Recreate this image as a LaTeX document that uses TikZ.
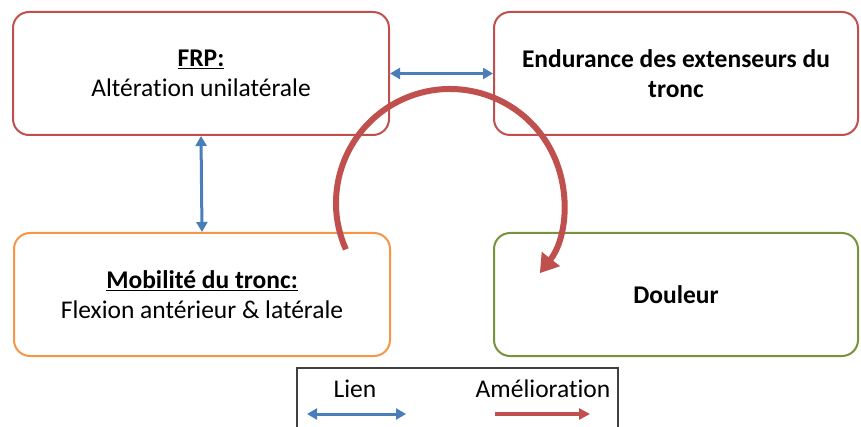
\documentclass[tikz,border=0pt]{standalone}
\usepackage{fontspec}
\setmainfont{Carlito}[Ligatures=NoCommon]
\usetikzlibrary{arrows.meta}
\definecolor{boxred}{HTML}{C0504D}
\definecolor{linkblue}{HTML}{4A7EBB}
\definecolor{boxorange}{HTML}{F79646}
\definecolor{boxgreen}{HTML}{77933C}
\definecolor{legendgray}{HTML}{404040}
\tikzset{
  stepbox/.style={draw, line width=2pt, rounded corners=16pt, fill=white,
    minimum width=376pt, minimum height=123pt, align=center,
    font=\fontsize{25.5}{30}\selectfont, inner sep=0pt},
  link/.style={draw=linkblue, line width=3pt,
    {Triangle[length=10pt,width=11pt]}-{Triangle[length=10pt,width=11pt]}},
  improve/.style={draw=boxred, line width=6pt, -{Triangle[length=18pt,width=22pt]}},
  legendtext/.style={font=\fontsize{25.5}{30}\selectfont, inner sep=0pt}
}
\begin{document}
\begin{tikzpicture}[x=1pt,y=-1pt]
  \useasboundingbox (0,0) rectangle (861,427);
  % the four factor boxes
  \node[stepbox, draw=boxred] (frp) at (201,73.5)
    {\textbf{\underline{FRP:}}\\Altération unilatérale};
  \node[stepbox, draw=boxred, minimum width=364pt] (endu) at (676,73.5)
    {\textbf{Endurance des extenseurs du}\\\textbf{tronc}};
  \node[stepbox, draw=boxorange] (mob) at (202,294.5)
    {\textbf{\underline{Mobilité du tronc:}}\\Flexion antérieur \& latérale};
  \node[stepbox, draw=boxgreen, minimum width=364pt] (dou) at (676,294.5)
    {\textbf{Douleur}};
  % links between factors
  \draw[link] (frp.east) -- (endu.west);
  \draw[link] (frp.south) -- (mob.north);
  % improvement loop
  \coordinate (loop) at (450,203);
  \draw[improve] ([shift={(156:114)}]loop) arc[start angle=156, end angle=398, radius=114];
  % legend
  \draw[legendgray, line width=1.2pt] (297,440) -- (297,368) -- (618,368) -- (618,440);
  \node[legendtext] (lien) at (355,389) {Lien};
  \node[legendtext] (amel) at (543,389) {Amélioration};
  \coordinate (la) at (307,414);
  \coordinate (lb) at (406,414);
  \coordinate (ra) at (495,414);
  \coordinate (rb) at (590,414);
  \draw[link] (la) -- (lb);
  \draw[draw=boxred, line width=4pt, -{Triangle[length=11pt,width=11pt]}] (ra) -- (rb);
\end{tikzpicture}
\end{document}
